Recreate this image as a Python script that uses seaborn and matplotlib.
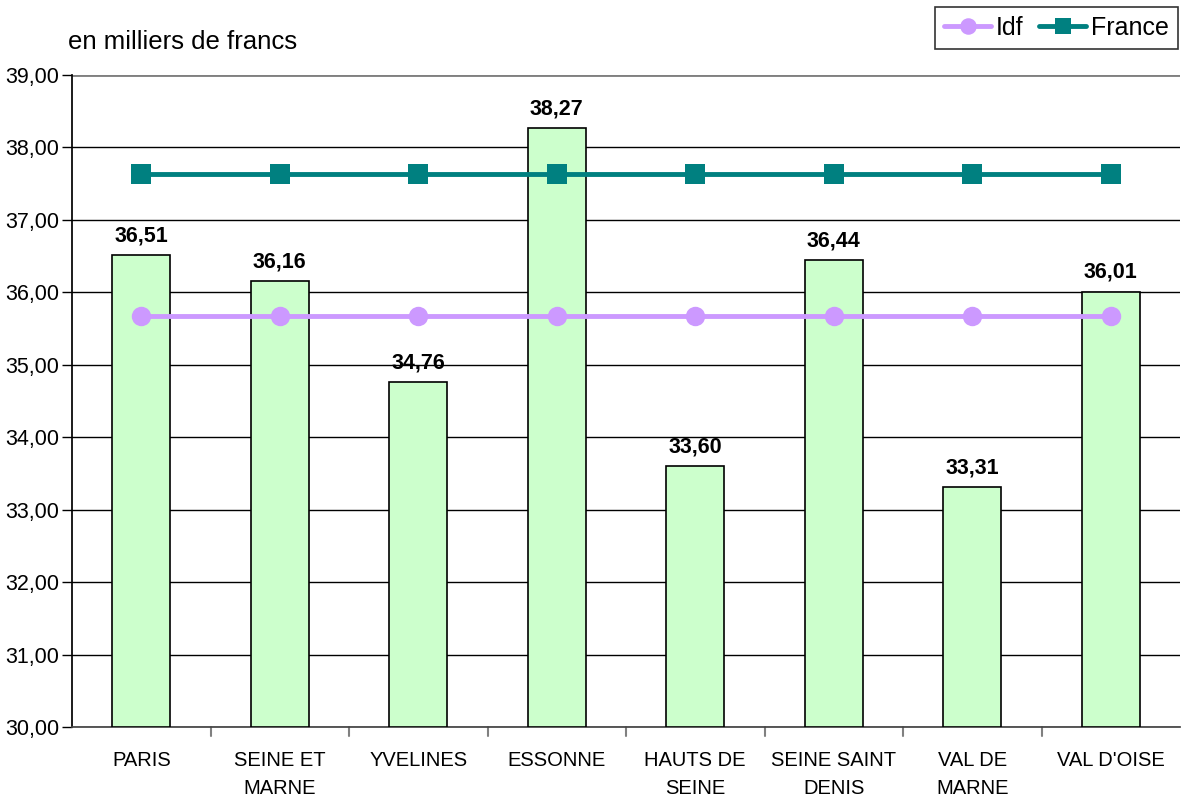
import numpy as np
import pandas as pd
import matplotlib
matplotlib.use("Agg")
import matplotlib.pyplot as plt
import seaborn as sns

# data
departements = ["PARIS", "SEINE ET\nMARNE", "YVELINES", "ESSONNE", "HAUTS DE\nSEINE",
                "SEINE SAINT\nDENIS", "VAL DE\nMARNE", "VAL D'OISE"]
valeurs = [36.51, 36.16, 34.76, 38.27, 33.60, 36.44, 33.31, 36.01]
idf = [35.68] * 8
france = [37.63] * 8

sns.set_theme(style="white")
plt.rcParams["font.family"] = ["Liberation Sans", "DejaVu Sans"]
plt.rcParams["text.color"] = "black"
plt.rcParams["xtick.color"] = "black"
plt.rcParams["ytick.color"] = "black"

fig = plt.figure(figsize=(11.81, 7.96), dpi=100)
ax = fig.add_axes([72 / 1181, 69 / 796, 1108 / 1181, 652 / 796])

df = pd.DataFrame({"dep": departements, "val": valeurs})
sns.barplot(data=df, x="dep", y="val", ax=ax, color="#CCFFCC", saturation=1,
            width=0.42, edgecolor="black", linewidth=1.2, zorder=3)
# bars start at the axis floor
for p in ax.patches:
    p.set_y(30)
    p.set_height(p.get_height() - 30)

pos = np.arange(len(departements))
sns.lineplot(x=pos, y=idf, ax=ax, color="#CC99FF", linewidth=3.5, marker="o",
             markersize=14, markeredgewidth=0, label="Idf", zorder=4)
sns.lineplot(x=pos, y=france, ax=ax, color="#008080", linewidth=3.5, marker="s",
             markersize=14, markeredgewidth=0, label="France", zorder=4)

for x, v in zip(pos, valeurs):
    ax.text(x, v + 0.12, f"{v:.2f}".replace(".", ","), ha="center", va="bottom",
            fontsize=15.5, fontweight="bold", zorder=5)

ax.set_xlim(-0.5, 7.5)
ax.set_ylim(30, 39)
ax.set_yticks(np.arange(30, 40, 1))
ax.set_yticklabels([f"{t:.2f}".replace(".", ",") for t in np.arange(30, 40, 1)], fontsize=15.5)
ax.yaxis.grid(True, color="black", linewidth=1)
ax.set_axisbelow(True)
ax.set_xticks(pos)
ax.set_xticklabels(departements, fontsize=14.5, linespacing=1.6)
ax.tick_params(axis="x", length=0, pad=17)
ax.tick_params(axis="y", length=7, width=1, color="black", left=True, direction="out", pad=2)
for xb in np.arange(0.5, 7, 1):
    ax.plot([xb, xb], [30, 29.88], color="gray", linewidth=1.5, clip_on=False)
ax.set_xlabel("")
ax.set_ylabel("")
for s in ["top", "right"]:
    ax.spines[s].set_visible(False)
ax.spines["left"].set_color("black")
ax.spines["bottom"].set_color("#444444")
ax.axhline(39, color="gray", linewidth=2, zorder=2)

fig.text(68 / 1181, 1 - 42 / 796, "en milliers de francs", fontsize=18.5, va="center")

leg = ax.legend(loc="upper right", bbox_to_anchor=(1 - 2 / 1108, 1 + 68 / 652), ncol=2,
                frameon=True, fontsize=18, handlelength=1.9, columnspacing=0.6,
                handletextpad=0.2, borderpad=0.35, borderaxespad=0, markerscale=0.85,
                fancybox=False)
leg.get_frame().set_edgecolor("black")
leg.get_frame().set_linewidth(1.2)

fig.savefig("out.png", dpi=100)
